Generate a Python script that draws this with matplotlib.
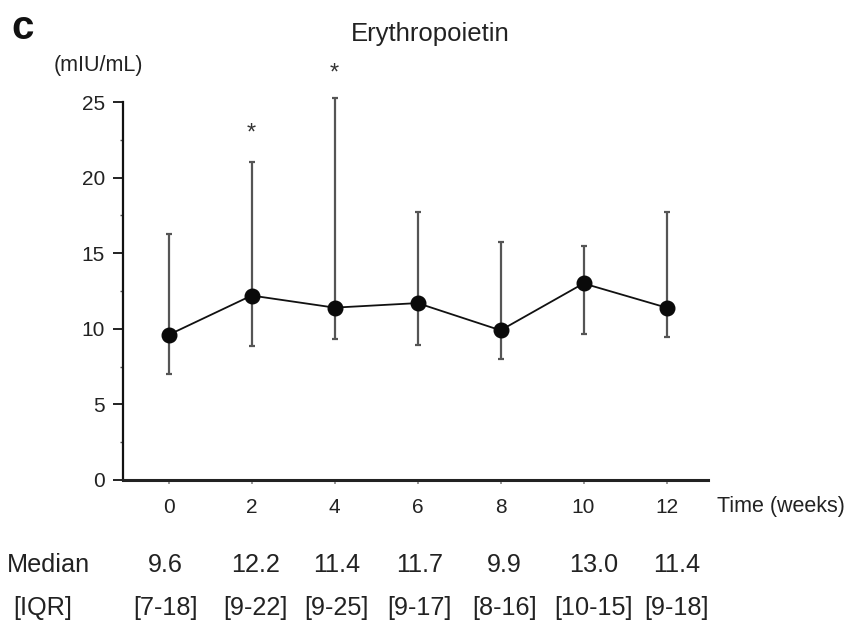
import numpy
import matplotlib
matplotlib.use('Agg')
import matplotlib.pyplot as plt
import matplotlib.transforms as mtransforms
from matplotlib.ticker import MultipleLocator

plt.rcParams['font.family'] = ['Liberation Sans', 'DejaVu Sans']

### Erythropoietin (mIU/mL) by visit week
weeks = [0, 2, 4, 6, 8, 10, 12]
medians = [9.6, 12.2, 11.4, 11.7, 9.9, 13.0, 11.4]
iqr_labels = ['[7-18]', '[9-22]', '[9-25]', '[9-17]', '[8-16]', '[10-15]', '[9-18]']

### Whisker ends
bar_low = [7.0, 8.85, 9.3, 8.9, 8.0, 9.65, 9.45]
bar_high = [16.3, 21.05, 25.28, 17.7, 15.75, 15.5, 17.7]

### Significance marks: week and height
star_weeks = [2, 4]
star_y = [22.9, 26.9]

textcol = '#222222'

########################################################################
fig = plt.figure(figsize=(8.46, 6.22), dpi=100)
ax = fig.add_axes([0.1454, 0.2283, 0.6915, 0.6077])

med = numpy.array(medians)
yerr = [med - numpy.array(bar_low), numpy.array(bar_high) - med]

### Whiskers first, then the median line and dots on top
ax.errorbar(weeks, med, yerr=yerr, fmt='none', ecolor='#555555',
            elinewidth=1.6, capsize=2.3, capthick=1.6, clip_on=False, zorder=2)
ax.plot(weeks, med, '-', color='#111111', lw=1.3, marker='o', ms=10.5,
        mfc='#0a0a0a', mec='#0a0a0a', clip_on=False, zorder=3)

for w, y in zip(star_weeks, star_y):
    ax.text(w, y, '*', ha='center', va='center', fontsize=17, color='#333333',
            clip_on=False)

ax.set_xlim(-1.1, 13.0)
ax.set_ylim(0, 25)
ax.set_xticks(weeks)
ax.set_yticks([0, 5, 10, 15, 20, 25])
ax.yaxis.set_minor_locator(MultipleLocator(2.5))

for s in ('top', 'right'):
    ax.spines[s].set_visible(False)
ax.spines['left'].set_linewidth(1.6)
ax.spines['bottom'].set_linewidth(2.2)
ax.spines['left'].set_color('#111111')
ax.spines['bottom'].set_color('#222222')

ax.tick_params(axis='y', which='major', length=7, width=1.3, colors='#111111',
               labelsize=15, labelcolor=textcol, pad=6)
ax.tick_params(axis='y', which='minor', length=2.5, width=1.0, colors='#555555')
ax.tick_params(axis='x', which='major', length=3, width=1.2, colors='#888888',
               labelsize=15, labelcolor=textcol, pad=10)

### Headings and units
fig.text(0.027, 0.955, 'c', fontsize=29, fontweight='bold', color='#111111',
         ha='center', va='center')
fig.text(0.509, 0.946, 'Erythropoietin', fontsize=18.5, color=textcol,
         ha='center', va='center')
fig.text(0.116, 0.895, '(mIU/mL)', fontsize=15.5, color=textcol,
         ha='center', va='center')
fig.text(0.847, 0.186, 'Time (weeks)', fontsize=15.5, color=textcol,
         ha='left', va='center')

### Median / IQR table under the axis, one column per week
fig.text(0.008, 0.0916, 'Median', fontsize=18.2, color=textcol,
         ha='left', va='center')
fig.text(0.051, 0.0225, '[IQR]', fontsize=18.2, color=textcol,
         ha='center', va='center')
tr = mtransforms.blended_transform_factory(ax.transData, fig.transFigure)
col_x = [-0.07, 2.1, 4.05, 6.05, 8.1, 10.25, 12.25]
for xc, m, q in zip(col_x, medians, iqr_labels):
    fig.text(xc, 0.0916, '%.1f' % m, transform=tr, ha='center', va='center',
             fontsize=18.2, color=textcol)
    fig.text(xc, 0.0225, q, transform=tr, ha='center', va='center',
             fontsize=18.2, color=textcol)

fig.savefig('out.png', dpi=100)
